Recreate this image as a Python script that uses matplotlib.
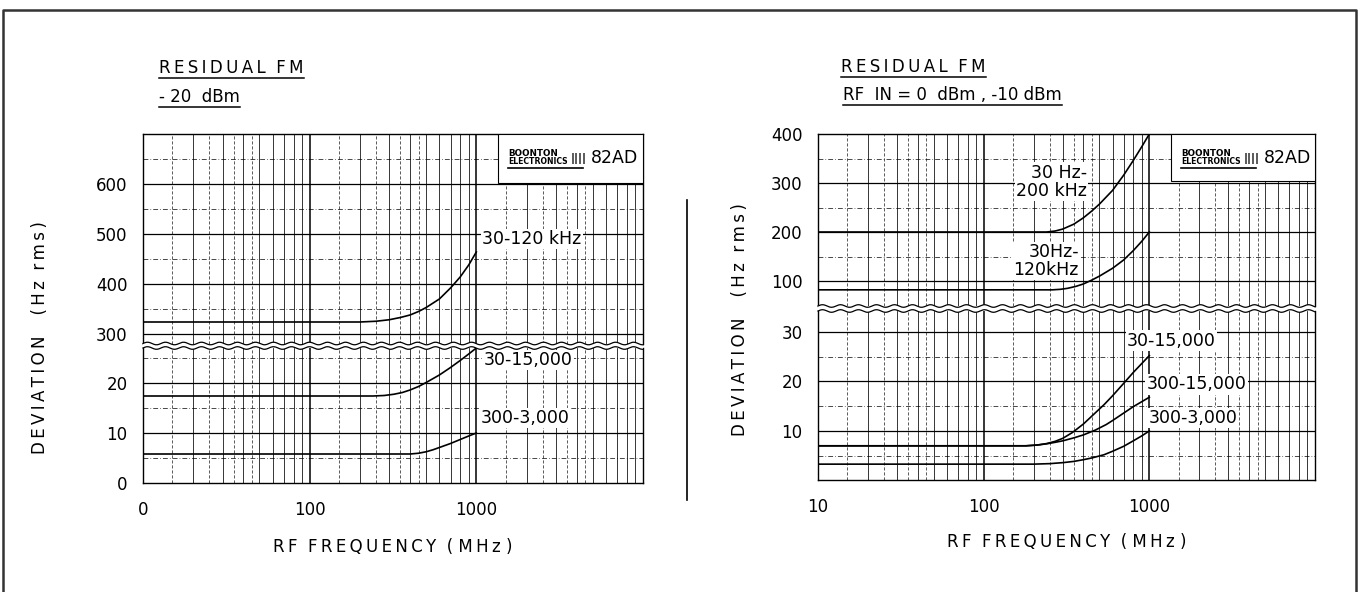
import matplotlib
matplotlib.use('Agg')
import matplotlib.pyplot as plt
import numpy as np
from matplotlib.lines import Line2D
from matplotlib.patches import Polygon, Rectangle
from matplotlib.ticker import NullFormatter, NullLocator

plt.rcParams['font.family'] = ['DejaVu Sans']

# ---- data (MHz, Hz rms) ----
# left chart, -20 dBm
f_30_120k = [10, 200, 250, 300, 350, 400, 450, 500, 600, 700, 800, 900, 1000]
d_30_120k = [324, 324, 325.5, 328.5, 333, 338, 345, 353, 370, 392, 414, 438, 464]
f_30_15k = [10, 240, 280, 320, 360, 400, 450, 500, 600, 700, 800, 900, 1000]
d_30_15k = [17.4, 17.4, 17.5, 17.75, 18.1, 18.6, 19.3, 20.1, 21.6, 23.1, 24.5, 25.8, 27.0]
f_300_3k = [10, 400, 450, 500, 550, 600, 700, 800, 900, 1000]
d_300_3k = [5.8, 5.8, 5.95, 6.25, 6.65, 7.1, 7.9, 8.7, 9.4, 10.0]

# right chart, RF IN = 0 dBm, -10 dBm
fr_200k = [10, 240, 270, 300, 350, 400, 450, 500, 600, 700, 800, 900, 1000]
dr_200k = [200, 200, 202, 206, 216, 229, 243, 257, 285, 316, 346, 374, 400]
fr_120k = [10, 260, 290, 320, 360, 400, 450, 500, 600, 700, 800, 900, 1000]
dr_120k = [82, 82, 83, 85, 89, 94, 102, 110, 126, 143, 162, 181, 200]
fr_30_15k = [10, 180, 210, 240, 270, 300, 344, 400, 460, 533, 600, 700, 800, 900, 1000]
dr_30_15k = [7.0, 7.0, 7.15, 7.45, 7.9, 8.5, 9.7, 11.4, 13.3, 15.3, 17.1, 19.6, 21.8, 23.6, 25.2]
fr_300_15k = [10, 180, 210, 240, 270, 300, 350, 400, 474, 550, 600, 700, 800, 900, 1000]
dr_300_15k = [7.0, 7.0, 7.15, 7.4, 7.7, 8.0, 8.6, 9.2, 10.2, 11.3, 12.1, 13.6, 14.9, 15.9, 16.8]
fr_300_3k = [10, 200, 250, 300, 350, 400, 450, 533, 600, 700, 800, 900, 1000]
dr_300_3k = [3.3, 3.3, 3.4, 3.6, 3.85, 4.2, 4.55, 5.2, 5.9, 6.9, 8.0, 9.0, 10.0]

xticks = [10, 100, 1000]
xlabels_left = ['0', '100', '1000']
xlabels_right = ['10', '100', '1000']

W, H = 1360, 592
fig = plt.figure(figsize=(13.6, 5.92), dpi=100)
fig.patch.set_facecolor('white')


def spaced(s):
    # drafting-style letter spacing with thin spaces
    out = ''
    for a, b in zip(s, s[1:] + ' '):
        out += a
        if a != ' ' and b != ' ':
            out += '\u2009'
    return out


def box(x0, x1, y0, y1):
    # pixel box (y measured from top) -> figure fractions
    return [x0 / W, 1 - y1 / H, (x1 - x0) / W, (y1 - y0) / H]


def fline(xs, ys, lw=1.0, color='k'):
    fig.add_artist(Line2D(np.array(xs) / W, 1 - np.array(ys) / H, lw=lw,
                          color=color, transform=fig.transFigure))


def paper(ax, ylim, solid, dashed):
    ax.set_xscale('log')
    ax.set_xlim(10, 10000)
    ax.set_ylim(*ylim)
    for d in [10, 100, 1000]:
        for m in range(2, 10):
            ax.axvline(d * m, color='k', lw=0.55, zorder=1)
        for m in [1.5, 2.5, 3.5, 4.5]:
            ax.axvline(d * m, color='k', lw=0.45, ls=(0, (5, 3)), zorder=1)
    for d in [100, 1000]:
        ax.axvline(d, color='k', lw=1.1, zorder=1)
    for v in solid:
        ax.axhline(v, color='k', lw=0.9, zorder=1)
    for v in dashed:
        ax.axhline(v, color='k', lw=0.5, ls=(0, (7, 3, 1, 3)), zorder=1)
    ax.xaxis.set_minor_locator(NullLocator())
    ax.xaxis.set_minor_formatter(NullFormatter())
    ax.tick_params(which='both', length=0, labelsize=12, pad=11)
    for s in ax.spines.values():
        s.set_linewidth(1.0)


def wave_break(ax_up, ax_lo, period=18.0, amp=1.3):
    bu = ax_up.get_position()
    bl = ax_lo.get_position()
    xs = np.linspace(bu.x0, bu.x1, 600)
    ph = (xs - bu.x0) * W / period * 2 * np.pi
    yt = bu.y0 + amp / H * np.sin(ph)
    yb = bl.y1 + amp / H * np.sin(ph)
    poly = np.vstack([np.column_stack([xs, yt]), np.column_stack([xs[::-1], yb[::-1]])])
    fig.add_artist(Polygon(poly, closed=True, fc='white', ec='none',
                           transform=fig.transFigure, zorder=5))
    for y in (yt, yb):
        fig.add_artist(Line2D(xs, y, lw=0.9, color='k', transform=fig.transFigure, zorder=6))


def brand(ax, x0frac, y0frac):
    ax.add_patch(Rectangle((x0frac, y0frac), 1 - x0frac, 1 - y0frac, transform=ax.transAxes,
                           fc='white', ec='k', lw=0.8, zorder=4))


def brand_text(xbox, ytop):
    fig.text((xbox + 10) / W, 1 - (ytop + 20) / H, 'BOONTON', fontsize=6.3,
             fontweight='bold', ha='left', va='center', zorder=7)
    fig.text((xbox + 10) / W, 1 - (ytop + 27) / H, 'ELECTRONICS', fontsize=5.6,
             fontweight='bold', ha='left', va='center', zorder=7)
    fig.text((xbox + 73) / W, 1 - (ytop + 24) / H, '||||', fontsize=8,
             fontweight='bold', ha='left', va='center', zorder=7)
    fline([xbox + 10, xbox + 85], [ytop + 34, ytop + 34], lw=1.2)
    fig.text((xbox + 93) / W, 1 - (ytop + 24) / H, '82AD', fontsize=12.5,
             ha='left', va='center', zorder=7)


renderer = fig.canvas.get_renderer()


def title_line(x, y, s, size=12):
    t = fig.text(x / W, 1 - y / H, s, fontsize=size, ha='left', va='center')
    bb = t.get_window_extent(renderer)
    fline([bb.x0, bb.x1], [y + 10, y + 10], lw=1.1)


lab = dict(fontsize=12.5, va='center', zorder=5,
           bbox=dict(fc='white', ec='none', pad=1.0))
xlab = spaced('RF  FREQUENCY  ( MHz )')
ylab = spaced('DEVIATION    (Hz  rms)')

# ---------------- left chart ----------------
axLu = fig.add_axes(box(143, 643, 134, 343.5))
axLl = fig.add_axes(box(143, 643, 348, 483))
paper(axLu, (281, 700), [300, 400, 500, 600], [350, 450, 550, 650])
paper(axLl, (0, 27), [10, 20], [5, 15, 25])
axLu.spines['bottom'].set_visible(False)
axLl.spines['top'].set_visible(False)
axLu.set_xticks([])
axLu.set_yticks([300, 400, 500, 600])
axLl.set_yticks([0, 10, 20])
axLl.set_xticks(xticks, xlabels_left)
axLl.tick_params(axis='x', pad=13)
axLl.set_xlabel(xlab, fontsize=12, labelpad=14)

axLu.plot(f_30_120k, d_30_120k, color='k', lw=1.2, zorder=3)
axLl.plot(f_30_15k, d_30_15k, color='k', lw=1.2, zorder=3)
axLl.plot(f_300_3k, d_300_3k, color='k', lw=1.2, zorder=3)
axLu.text(1080, 490, '30-120 kHz', ha='left', **lab)
axLl.text(1110, 24.6, '30-15,000', ha='left', **lab)
axLl.text(1055, 13.0, '300-3,000', ha='left', **lab)
brand(axLu, 0.71, 0.766)
brand_text(498, 134)
wave_break(axLu, axLl)

title_line(159, 68, spaced('RESIDUAL  FM'))
title_line(159, 97, '- 20  dBm')
fig.text(40 / W, 1 - 338 / H, ylab, rotation=90,
         fontsize=12, ha='center', va='center')

# ---------------- right chart ----------------
axRu = fig.add_axes(box(818, 1315, 134, 306))
axRl = fig.add_axes(box(818, 1315, 311, 480))
paper(axRu, (49, 400), [100, 200, 300], [150, 250, 350])
paper(axRl, (0.1, 34.2), [10, 20, 30], [5, 15, 25])
axRu.spines['bottom'].set_visible(False)
axRl.spines['top'].set_visible(False)
axRu.set_xticks([])
axRu.set_yticks([100, 200, 300, 400])
axRl.set_yticks([10, 20, 30])
axRl.set_xticks(xticks, xlabels_right)
axRl.tick_params(axis='x', pad=13)
axRl.set_xlabel(xlab, fontsize=12, labelpad=12)

axRu.plot(fr_200k, dr_200k, color='k', lw=1.2, zorder=3)
axRu.plot(fr_120k, dr_120k, color='k', lw=1.2, zorder=3)
axRl.plot(fr_30_15k, dr_30_15k, color='k', lw=1.2, zorder=3)
axRl.plot(fr_300_15k, dr_300_15k, color='k', lw=1.2, zorder=3)
axRl.plot(fr_300_3k, dr_300_3k, color='k', lw=1.2, zorder=3)
axRu.text(420, 303, '30 Hz-\n200 kHz', ha='right', multialignment='right',
          linespacing=1.0, **lab)
axRu.text(376, 141, '30Hz-\n120kHz', ha='right', multialignment='right',
          linespacing=1.0, **lab)
axRl.text(733, 28.2, '30-15,000', ha='left', **lab)
axRl.text(966, 19.4, '300-15,000', ha='left', **lab)
axRl.text(995, 12.6, '300-3,000', ha='left', **lab)
brand(axRu, 0.71, 0.727)
brand_text(1171, 134)
wave_break(axRu, axRl)

title_line(841, 67, spaced('RESIDUAL  FM'))
title_line(843, 95, 'RF  IN = 0  dBm , -10 dBm')
fig.text(740 / W, 1 - 320 / H, ylab, rotation=90,
         fontsize=12, ha='center', va='center')

# divider and page frame
fline([687, 687], [200, 500], lw=1.2)
fline([3, 3, 1356, 1356], [600, 10, 10, 600], lw=1.8, color='#333333')

fig.savefig('out.png', dpi=100, facecolor='white')
